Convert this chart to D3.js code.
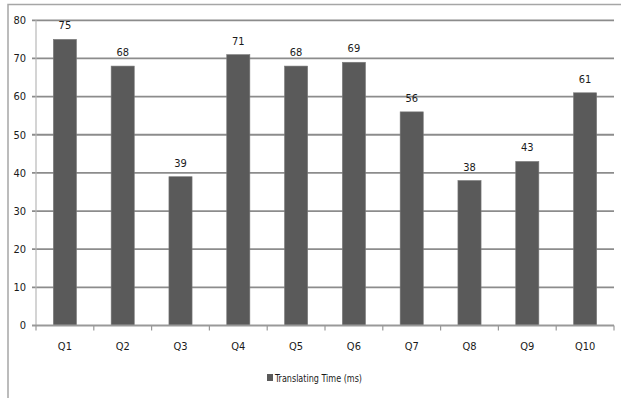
<!DOCTYPE html>
<html>
<head>
<meta charset="utf-8">
<script src="https://cdn.jsdelivr.net/npm/d3@7"></script>
<style>
  html, body { margin: 0; padding: 0; background: #fff; }
  svg { display: block; }
  text { font-family: "Liberation Sans Narrow", "DejaVu Sans Condensed", "Open Sans", sans-serif; fill: #1a1a1a; }
</style>
</head>
<body>
<svg id="chart" width="621" height="398"></svg>
<script>
// Translating time per query, in milliseconds
const categories = ["Q1", "Q2", "Q3", "Q4", "Q5", "Q6", "Q7", "Q8", "Q9", "Q10"];
const values = [75, 68, 39, 71, 68, 69, 56, 38, 43, 61];
const yTicks = [0, 10, 20, 30, 40, 50, 60, 70, 80];
const seriesName = "Translating Time (ms)";

const svg = d3.select("#chart");
const W = 621, H = 398;
const plot = { left: 36, right: 614, top: 20.3, bottom: 325.5 };

// outer frame: top and left edges only
svg.append("path")
  .attr("d", `M8,${H} V4.5 H${W}`)
  .attr("fill", "none")
  .attr("stroke", "#a6a6a6")
  .attr("stroke-width", 1.5);

const x = d3.scaleBand()
  .domain(categories)
  .range([plot.left, plot.right])
  .paddingInner(0.6)
  .paddingOuter(0.3);

const y = d3.scaleLinear()
  .domain([0, 80])
  .range([plot.bottom, plot.top]);

// horizontal gridlines with short ticks on the left
const grid = svg.append("g");
grid.selectAll("line")
  .data(yTicks.filter(d => d > 0))
  .join("line")
  .attr("x1", plot.left - 4)
  .attr("x2", plot.right)
  .attr("y1", d => y(d))
  .attr("y2", d => y(d))
  .attr("stroke", "#8c8c8c")
  .attr("stroke-width", 1.8);

// vertical value axis
svg.append("line")
  .attr("x1", plot.left).attr("x2", plot.left)
  .attr("y1", plot.top).attr("y2", plot.bottom)
  .attr("stroke", "#b8b8b8")
  .attr("stroke-width", 1.2);

// y tick labels
svg.append("g").selectAll("text")
  .data(yTicks)
  .join("text")
  .attr("x", 26)
  .attr("y", d => y(d))
  .attr("dy", "0.35em")
  .attr("text-anchor", "end")
  .attr("font-size", 11)
  .text(d => d);

// bars
svg.append("g").selectAll("rect")
  .data(values)
  .join("rect")
  .attr("x", (d, i) => x(categories[i]))
  .attr("width", x.bandwidth())
  .attr("y", d => y(d))
  .attr("height", d => y(0) - y(d))
  .attr("fill", "#5a5a5a")
  .attr("stroke", "#7a7a7a")
  .attr("stroke-width", 0.6);

// value labels
svg.append("g").selectAll("text")
  .data(values)
  .join("text")
  .attr("x", (d, i) => x(categories[i]) + x.bandwidth() / 2)
  .attr("y", d => y(d) - 10)
  .attr("text-anchor", "middle")
  .attr("font-size", 11)
  .text(d => d);

// category axis line and boundary ticks
svg.append("line")
  .attr("x1", plot.left - 4).attr("x2", plot.right)
  .attr("y1", y(0)).attr("y2", y(0))
  .attr("stroke", "#999")
  .attr("stroke-width", 1.8);

const step = x.step();
const bounds = d3.range(categories.length + 1).map(i => plot.left + i * step);
svg.append("g").selectAll("line")
  .data(bounds)
  .join("line")
  .attr("x1", d => d).attr("x2", d => d)
  .attr("y1", y(0)).attr("y2", y(0) + 5)
  .attr("stroke", "#999")
  .attr("stroke-width", 1.2);

// category labels
svg.append("g").selectAll("text")
  .data(categories)
  .join("text")
  .attr("x", d => x(d) + x.bandwidth() / 2)
  .attr("y", 350)
  .attr("text-anchor", "middle")
  .attr("font-size", 11)
  .text(d => d);

// legend
const legend = svg.append("g").attr("transform", "translate(267,378)");
legend.append("rect")
  .attr("x", 0).attr("y", -4)
  .attr("width", 6).attr("height", 7)
  .attr("fill", "#5a5a5a");
legend.append("text")
  .attr("x", 8)
  .attr("y", 0)
  .attr("dy", "0.35em")
  .attr("font-size", 10.5)
  .attr("textLength", 87)
  .attr("lengthAdjust", "spacingAndGlyphs")
  .text(seriesName);
</script>
</body>
</html>
